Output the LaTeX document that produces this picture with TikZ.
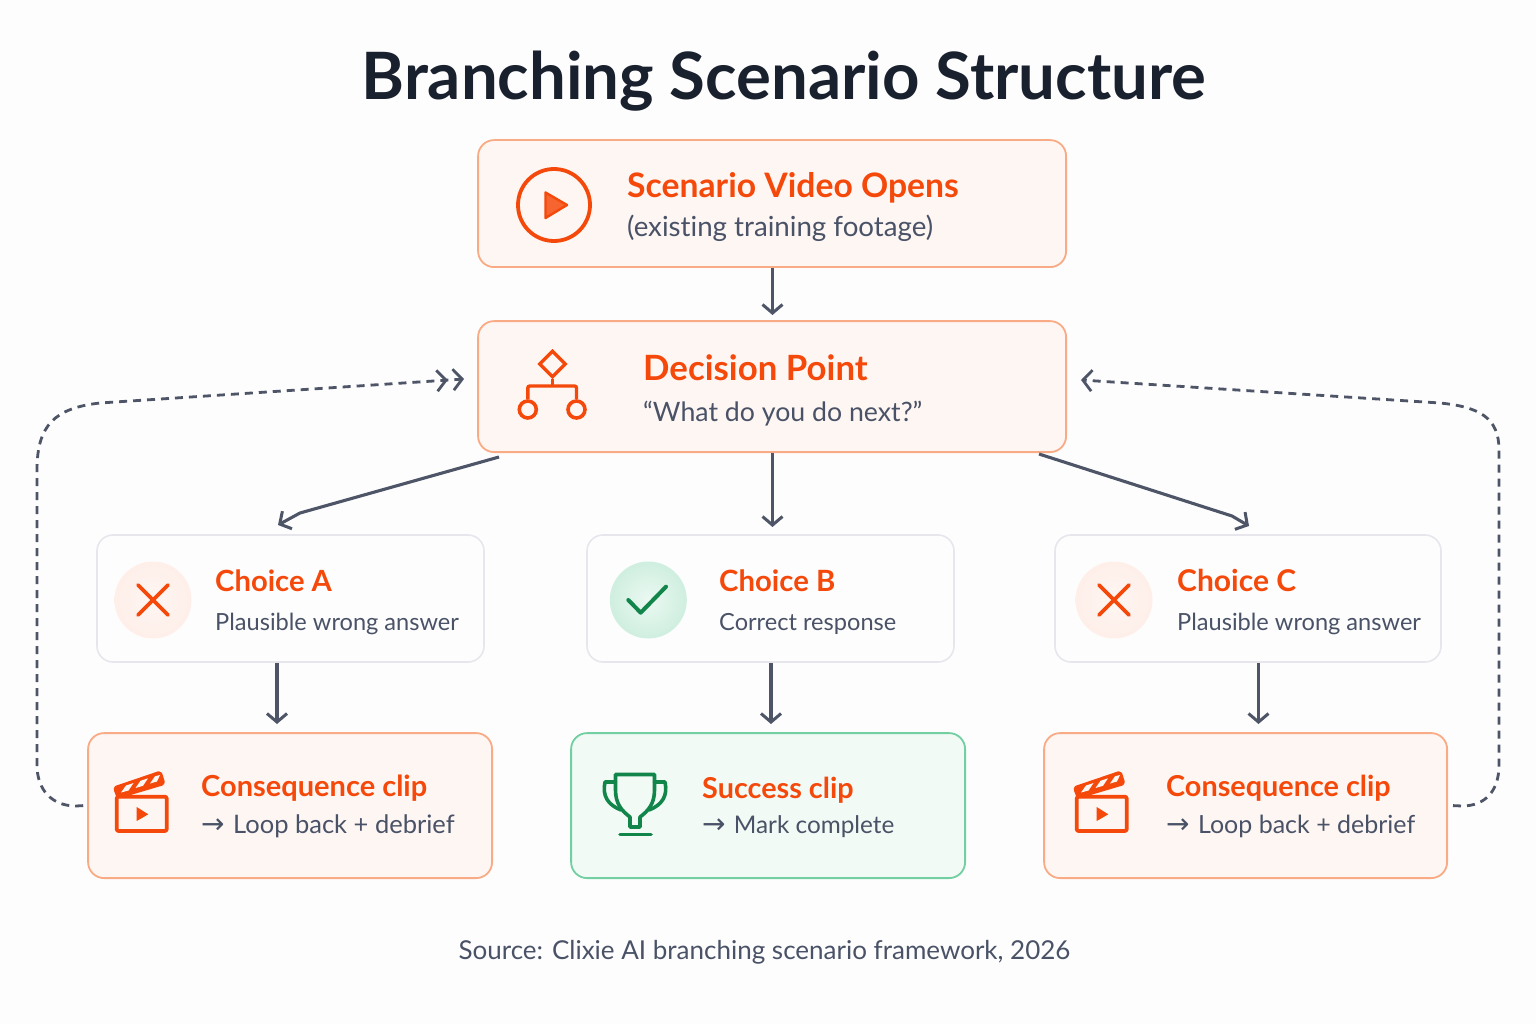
\documentclass[tikz,border=0pt]{standalone}
\usepackage{fontspec}
\setmainfont{Lato}[Ligatures=NoCommon]
\newfontfamily\arrowfont{DejaVu Sans}
\usetikzlibrary{arrows.meta,shapes.geometric,calc}
\definecolor{orng}{HTML}{F4490B}
\definecolor{orngedge}{HTML}{F8AB84}
\definecolor{orngfill}{HTML}{FEF6F3}
\definecolor{grn}{HTML}{12854B}
\definecolor{grnedge}{HTML}{72CFA2}
\definecolor{grnfill}{HTML}{F2FAF6}
\definecolor{ink}{HTML}{1A212E}
\definecolor{slate}{HTML}{495266}
\definecolor{conn}{HTML}{4D5567}
\definecolor{pale}{HTML}{E6E6EC}
\definecolor{paper}{HTML}{FEFDFE}
\newcommand{\arr}{{\arrowfont\fontsize{28}{28}\selectfont →}\hspace{2pt}}
\tikzset{
  x=1pt,y=-1pt,
  box/.style={rectangle,rounded corners=16pt,line width=1.8pt,inner sep=0pt,anchor=north west,xshift=-0.8pt,yshift=0.8pt},
  hot/.style={box,draw=orngedge,fill=orngfill},
  good/.style={box,draw=grnedge,fill=grnfill},
  plain/.style={box,draw=pale,line width=1.6pt,fill=paper},
  head/.style={anchor=base west,inner sep=0pt,text=orng,font=\bfseries\fontsize{#1}{#1}\selectfont},
  sub/.style={anchor=base west,inner sep=0pt,text=slate,font=\fontsize{#1}{#1}\selectfont},
  flow/.style={draw=conn,line width=3.1pt,-{Straight Barb[length=8.5pt,width=20pt,line width=3pt]}},
  loop/.style={draw=conn,line width=2.8pt,dash pattern=on 8pt off 6pt},
  icon/.style={draw=orng,line width=3.8pt,line join=round,line cap=round},
  gicon/.style={draw=grn,line width=3.6pt,line join=round,line cap=round},
  clapper/.pic={
    \draw[icon,rounded corners=2pt] (116.7,796.7) rectangle (166.7,831);
    \draw[icon,rounded corners=1.5pt,fill=orng] (115,788) -- (160,772.7) -- (163.3,783.3) -- (118.3,796.7) -- cycle;
    \fill[orngfill] (121,792.5) -- (126,785.5) -- (133.5,783) -- (128.5,790.5) -- cycle;
    \fill[orngfill] (135.5,788) -- (140.5,780.8) -- (148,778.3) -- (143,785.8) -- cycle;
    \fill[orngfill] (150,783.5) -- (155,776.3) -- (160,775) -- (157,781.5) -- cycle;
    \fill[orng] (136.7,807) -- (148.3,814.3) -- (136.7,821) -- cycle;
  },
  cross/.pic={
    \draw[line width=3.8pt,draw=orng,line cap=round] (-15,-15) -- (15,15) (-15,15) -- (15,-15);
  }
}
\begin{document}
\begin{tikzpicture}
\useasboundingbox (0,0) rectangle (1536,1024);
\fill[paper] (0,0) rectangle (1536,1024);

\node[anchor=base,inner sep=0pt,text=ink,font=\bfseries\fontsize{65.3}{65.3}\selectfont] (title) at (784,99.5) {Branching Scenario Structure};

% boxes
\node[hot,minimum width=588pt,minimum height=127pt] (open) at (478,140) {};
\node[hot,minimum width=588pt,minimum height=131pt] (decision) at (478,321) {};
\node[plain,minimum width=387pt,minimum height=127pt] (choiceA) at (97,535) {};
\node[plain,minimum width=367pt,minimum height=127pt] (choiceB) at (587,535) {};
\node[plain,minimum width=386pt,minimum height=127pt] (choiceC) at (1055,535) {};
\node[hot,minimum width=404pt,minimum height=145pt] (consA) at (88,733) {};
\node[good,minimum width=394pt,minimum height=145pt] (success) at (571,733) {};
\node[hot,minimum width=403pt,minimum height=145pt] (consC) at (1044,733) {};

% free connector ends
\coordinate (inAtop) at (278,525);
\coordinate (inCtop) at (1249,526);
\coordinate (inBtop) at (772.5,527);
\coordinate (fromA) at (499,457);
\coordinate (fromC) at (1039,454);
\coordinate (loopL) at (464,379);
\coordinate (loopR) at (1081,380);

% flow
\draw[flow] (open.south -| 772.5,0) -- (772.5,315);
\draw[flow] (decision.south -| inBtop) -- (inBtop);
\draw[flow] (fromA) -- (300,513) -- (inAtop);
\draw[flow] (fromC) -- (1232,516) -- (inCtop);
\draw[flow] (choiceA.south -| 277,0) -- (277,724);
\draw[flow] (choiceB.south -| 771,0) -- (771,724);
\draw[flow] (choiceC.south -| 1258.5,0) -- (1258.5,724);

% dashed loops
\draw[loop,-{Straight Barb[length=9pt,width=21pt,line width=2.8pt,sep=4pt]Straight Barb[length=9pt,width=21pt,line width=2.8pt]}]
  ($(consA.west)+(-4,0)$) -- (76,806) .. controls (52,806) and (37,790) .. (37,765) -- (37,470) .. controls (37,425) and (55,408) .. (100,403) -- (loopL);
\draw[loop,-{Straight Barb[length=9pt,width=21pt,line width=2.8pt]}]
  ($(consC.east)+(5,0)$) -- (1462,806) .. controls (1486,806) and (1499,790) .. (1499,765) -- (1499,450) .. controls (1499,418) and (1480,407) .. (1440,403) -- (loopR);

% play icon
\node[circle,draw=orng,line width=3.8pt,minimum size=72pt,inner sep=0pt] (playring) at (554,205) {};
\draw[icon,line width=2.4pt,fill=orng!85!white] (545.5,192.5) -- (567,205) -- (545.5,218) -- cycle;

% decision icon
\node[diamond,draw=orng,line width=3.4pt,minimum size=27pt,inner sep=0pt] (dia) at (552.5,364) {};
\node[circle,draw=orng,line width=3.6pt,minimum size=17pt,inner sep=0pt] (leafL) at (527.8,409.5) {};
\node[circle,draw=orng,line width=3.6pt,minimum size=17pt,inner sep=0pt] (leafR) at (576.5,409.5) {};
\draw[draw=orng,line width=3.4pt,rounded corners=2pt] (leafL.north) |- (dia.south |- 0,386) -| (leafR.north);
\draw[draw=orng,line width=3.4pt] (dia.south) -- (dia.south |- 0,386);

% choice badges
\node[circle,minimum size=77pt,inner sep=0pt,inner color=orngfill,outer color=orng!9!white] (badgeA) at (153,600) {};
\node[circle,minimum size=77pt,inner sep=0pt,inner color=grnedge!14!white,outer color=grnedge!34!white] (badgeB) at (648.3,600) {};
\node[circle,minimum size=77pt,inner sep=0pt,inner color=orngfill,outer color=orng!9!white] (badgeC) at (1114,600) {};
\pic at (badgeA) {cross};
\pic at (badgeC) {cross};
\draw[gicon,line width=4pt] (628.3,600) -- (640.7,612.7) -- (666,586.7);

% clappers
\pic at (0,0) {clapper};
\pic at (960,0) {clapper};

% trophy
\draw[gicon] (615.5,774.5) -- (654.5,774.5) -- (654.5,790) .. controls (654.5,804) and (648,811) .. (640,817) -- (640,827) -- (630,827) -- (630,817) .. controls (622,811) and (615.5,804) .. (615.5,790) -- cycle;
\draw[gicon] (615.5,782) -- (605,782) .. controls (602,796) and (608,805) .. (621,810);
\draw[gicon] (654.5,782) -- (665,782) .. controls (668,796) and (662,805) .. (649,810);
\draw[gicon] (620,834.5) -- (651,834.5);

% text
\node[head=33.7] (t1) at (627,198) {Scenario Video Opens};
\node[sub=27.7] (s1) at (627,237) {(existing training footage)};
\node[head=34.8] (t2) at (643,380) {Decision Point};
\node[sub=26.7] (s2) at (643,421) {“What do you do next?”};
\node[head=29.2] (tA) at (215,591) {Choice A};
\node[sub=23.6] (sA) at (215,630) {Plausible wrong answer};
\node[head=29.3] (tB) at (719,591) {Choice B};
\node[sub=23.6] (sB) at (719,630) {Correct response};
\node[head=30] (tC) at (1177,591) {Choice C};
\node[sub=23.6] (sC) at (1177,630) {Plausible wrong answer};
\node[head=29] (cA) at (201,796) {Consequence clip};
\node[sub=25.5] (dA) at (201,833) {\arr{} Loop back + debrief};
\node[head=28.8] (cB) at (702,798) {Success clip};
\node[sub=24.3] (dB) at (702,833) {\arr{} Mark complete};
\node[head=28.8] (cC) at (1166,796) {Consequence clip};
\node[sub=25] (dC) at (1166,833) {\arr{} Loop back + debrief};
\node[anchor=base,inner sep=0pt,text=slate,font=\fontsize{26}{26}\selectfont] (source) at (764.5,959.5) {Source: Clixie AI branching scenario framework, 2026};
\end{tikzpicture}
\end{document}
